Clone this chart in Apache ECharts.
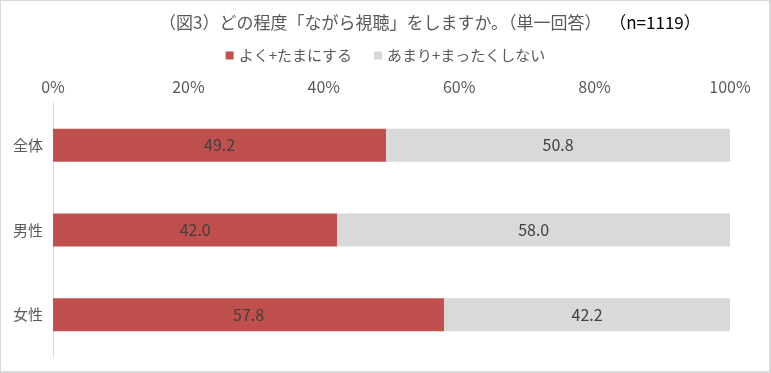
<!DOCTYPE html>
<html><head><meta charset="utf-8">
<script src="https://cdn.jsdelivr.net/npm/echarts@6/dist/echarts.min.js"></script>
<style>
html,body{margin:0;padding:0;background:#fff;}
#wrap{position:absolute;left:0;top:0;width:771px;height:373px;box-sizing:border-box;border:1px solid #d9d9d9;border-right-width:2px;border-bottom-width:2px;}
#c{position:absolute;left:0;top:0;width:771px;height:373px;}
</style></head>
<body><div id="wrap"></div><div id="c"></div>
<script>
const categories = ['全体', '男性', '女性'];
const seriesNames = ['よく+たまにする', 'あまり+まったくしない'];
const often = [49.2, 42.0, 57.8];
const rarely = [50.8, 58.0, 42.2];
const tickLabels = ['0%', '20%', '40%', '60%', '80%', '100%'];

const font = '"Noto Sans CJK JP", "Noto Sans", sans-serif';
const chart = echarts.init(document.getElementById('c'), null, {renderer: 'canvas'});
chart.setOption({
  animation: false,
  textStyle: {fontFamily: font, color: '#595959'},
  title: {
    left: 154, top: 9,
    text: '{a|（図3）どの程度「ながら視聴」をしますか。（単一回答）}{b|  （n=1119）}',
    textStyle: {
      fontWeight: 'normal',
      rich: {
        a: {fontSize: 17, color: '#595959', fontFamily: font, fontWeight: 'normal'},
        b: {fontSize: 17, color: '#000000', fontFamily: font, fontWeight: 'normal'}
      }
    }
  },
  legend: {
    top: 43, left: 'center',
    itemWidth: 8, itemHeight: 8, itemGap: 22,
    icon: 'rect',
    textStyle: {fontSize: 15, color: '#595959', fontFamily: font},
    data: seriesNames
  },
  grid: {left: 53, right: 41, top: 103, bottom: 16},
  xAxis: {
    type: 'value', position: 'top', min: 0, max: 100, interval: 20,
    axisLabel: {formatter: v => tickLabels[v / 20], fontSize: 16, color: '#595959', margin: 8},
    splitLine: {show: false}, axisLine: {show: false}, axisTick: {show: false}
  },
  yAxis: {
    type: 'category', inverse: true, data: categories,
    axisLine: {show: true, lineStyle: {color: '#d9d9d9', width: 1}},
    axisTick: {show: false},
    axisLabel: {fontSize: 15, color: '#595959', margin: 10}
  },
  series: [
    {name: seriesNames[0], type: 'bar', stack: 's', data: often, barWidth: 33,
     itemStyle: {color: '#C0504D'},
     label: {show: true, position: 'inside', formatter: p => p.value.toFixed(1), fontSize: 16, color: '#404040'}},
    {name: seriesNames[1], type: 'bar', stack: 's', data: rarely, barWidth: 33,
     itemStyle: {color: '#D9D9D9'},
     label: {show: true, position: 'inside', formatter: p => p.value.toFixed(1), fontSize: 16, color: '#404040'}}
  ]
});
</script></body></html>
